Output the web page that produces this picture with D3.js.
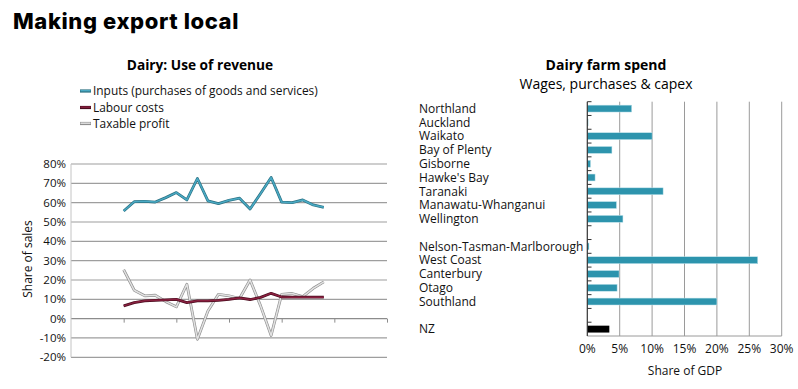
<!DOCTYPE html>
<html><head><meta charset="utf-8">
<script src="https://cdn.jsdelivr.net/npm/d3@7"></script>
<style>
html,body{margin:0;padding:0;background:#fff;}
svg{display:block;}
</style></head>
<body>
<svg id="chart" width="798" height="389"></svg>
<script>
// ---- Left chart data (20 annual observations) ----
const periods = d3.range(20);
const inputs  = [55.7,60.5,60.7,60.3,62.6,65.2,61.4,72.5,60.9,59.5,61.2,62.3,56.7,64.7,73.0,60.3,60.0,61.4,58.8,57.6];
const labour  = [6.6,8.3,9.2,9.5,9.7,10.0,8.3,9.2,9.2,9.5,10.0,10.7,9.9,11.0,13.1,11.2,11.1,11.1,11.1,11.1];
const profit  = [25.3,14.7,11.8,12.1,8.8,6.1,17.8,-10.7,4.0,12.6,11.8,10.4,20.0,6.6,-8.7,12.6,13.0,11.4,15.7,19.0];
const leftYTicks = [-20,-10,0,10,20,30,40,50,60,70,80];
const seriesNames = ["Inputs (purchases of goods and services)","Labour costs","Taxable profit"];

// ---- Right chart data ----
const regions = ["Northland","Auckland","Waikato","Bay of Plenty","Gisborne","Hawke's Bay","Taranaki","Manawatu-Whanganui","Wellington","","Nelson-Tasman-Marlborough","West Coast","Canterbury","Otago","Southland","","NZ"];
const spend   = [6.85,0.1,10.0,3.8,0.5,1.2,11.7,4.5,5.5,null,0.26,26.3,4.9,4.6,20.0,null,3.4];
const rightXTicks = [0,5,10,15,20,25,30];

const svg = d3.select("#chart");
const font = "'Open Sans', 'Noto Sans', sans-serif";

// Main title
svg.append("text").attr("x",13).attr("y",28.5)
  .attr("font-family","Inter, Lato, sans-serif").attr("font-weight",800)
  .attr("font-size",22).attr("fill","#000").attr("letter-spacing","0.6")
  .text("Making export local");

// ================= LEFT CHART =================
const L = svg.append("g");
L.append("text").attr("x",200).attr("y",69.5).attr("text-anchor","middle")
  .attr("font-family",font).attr("font-weight",700).attr("font-size",13.7).text("Dairy: Use of revenue");

const x = d3.scaleLinear().domain([-5,25]).range([71,387]);
const y = d3.scaleLinear().domain([-20,80]).range([357.3,164]);

// gridlines
L.append("g").selectAll("line").data(leftYTicks).join("line")
  .attr("x1",71).attr("x2",387).attr("y1",d=>y(d)).attr("y2",d=>y(d))
  .attr("stroke",d=>d===0?"#8c8c8c":"#9e9e9e").attr("stroke-width",1.2);
// y axis line (light)
L.append("line").attr("x1",71).attr("x2",71).attr("y1",y(80)).attr("y2",y(-20))
  .attr("stroke","#c4c4c4").attr("stroke-width",1);
// y tick labels
L.append("g").selectAll("text").data(leftYTicks).join("text")
  .attr("x",66).attr("y",d=>y(d)+4).attr("text-anchor","end")
  .attr("font-family",font).attr("font-size",11.5).attr("fill","#111")
  .text(d=>d+"%");
// x axis ticks on 0 line
const xAxis = d3.axisBottom(x).tickValues([0,5,10,15,20,25]).tickSize(4).tickFormat("");
const xg = L.append("g").attr("transform",`translate(0,${y(0)})`).call(xAxis);
xg.select(".domain").remove();
xg.selectAll(".tick line").attr("stroke","#8c8c8c");

// y axis title
L.append("text").attr("transform","translate(32,259) rotate(-90)").attr("text-anchor","middle")
  .attr("font-family",font).attr("font-size",12).attr("fill","#111").text("Share of sales");

const line = d3.line().x((d,i)=>x(periods[i])).y(d=>y(d));
const styles = [
  {data:inputs, outer:"#2a6f80", inner:"#4aaac4"},
  {data:labour, outer:"#4a0c1e", inner:"#8a2040"},
  {data:profit, outer:"#8f8f8f", inner:"#e2e2e2"}
];
styles.slice().reverse().forEach(s=>{
  L.append("path").datum(s.data).attr("d",line).attr("fill","none")
    .attr("stroke",s.outer).attr("stroke-width",2.8).attr("stroke-linejoin","round");
  L.append("path").datum(s.data).attr("d",line).attr("fill","none")
    .attr("stroke",s.inner).attr("stroke-width",1.5).attr("stroke-linejoin","round");
});

// legend
const legY = [91,107.5,123.5];
seriesNames.forEach((n,i)=>{
  L.append("line").attr("x1",80).attr("x2",91).attr("y1",legY[i]).attr("y2",legY[i])
    .attr("stroke",styles[i].outer).attr("stroke-width",3.2);
  L.append("line").attr("x1",80.5).attr("x2",90.5).attr("y1",legY[i]-0.3).attr("y2",legY[i]-0.3)
    .attr("stroke",styles[i].inner).attr("stroke-width",1.4);
  L.append("text").attr("x",93).attr("y",legY[i]+4.2).attr("font-family",font)
    .attr("font-size",11.9).attr("fill","#111").text(n);
});

// ================= RIGHT CHART =================
const R = svg.append("g");
R.append("text").attr("x",606).attr("y",70).attr("text-anchor","middle")
  .attr("font-family",font).attr("font-weight",700).attr("font-size",14).text("Dairy farm spend");
R.append("text").attr("x",606).attr("y",88.5).attr("text-anchor","middle")
  .attr("font-family",font).attr("font-size",14).text("Wages, purchases & capex");

const keys = regions.map((r,i)=>i);
const yb = d3.scaleBand().domain(keys).range([101.7,336]).paddingInner(0.5).paddingOuter(0.25);
const xr = d3.scaleLinear().domain([0,30]).range([587.3,781.7]);

// vertical gridlines
R.append("g").selectAll("line").data(rightXTicks.slice(1)).join("line")
  .attr("x1",d=>xr(d)).attr("x2",d=>xr(d)).attr("y1",101.7).attr("y2",336)
  .attr("stroke","#9a9a9a").attr("stroke-width",1);
// bottom axis line
R.append("line").attr("x1",587.3).attr("x2",781.7).attr("y1",336).attr("y2",336)
  .attr("stroke","#9a9a9a").attr("stroke-width",1);

// bars
R.append("g").selectAll("rect").data(spend.map((v,i)=>({v,i})).filter(d=>d.v!==null)).join("rect")
  .attr("x",xr(0)).attr("y",d=>yb(d.i)).attr("height",yb.bandwidth())
  .attr("width",d=>Math.max(0.8,xr(d.v)-xr(0)))
  .attr("fill",d=>regions[d.i]==="NZ"?"#000":"#2d94ad")
  .attr("stroke",d=>regions[d.i]==="NZ"?"none":"#bfe3ec").attr("stroke-width",0.5);

// y axis line + ticks at slot boundaries
R.append("line").attr("x1",587.3).attr("x2",587.3).attr("y1",101.7).attr("y2",336)
  .attr("stroke","#333").attr("stroke-width",1.2);
const step = yb.step();
R.append("g").selectAll("line").data(d3.range(regions.length)).join("line")
  .attr("x1",587.3).attr("x2",591.5)
  .attr("y1",d=>101.7+d*step).attr("y2",d=>101.7+d*step)
  .attr("stroke","#333").attr("stroke-width",1);

// category labels
R.append("g").selectAll("text").data(regions).join("text")
  .attr("x",419).attr("y",(d,i)=>yb(i)+yb.bandwidth()/2+4.3)
  .attr("font-family",font).attr("font-size",12).attr("fill","#111").text(d=>d);

// x tick labels
R.append("g").selectAll("text").data(rightXTicks).join("text")
  .attr("x",d=>xr(d)).attr("y",352.5).attr("text-anchor","middle")
  .attr("font-family",font).attr("font-size",12).attr("fill","#111").text(d=>d+"%");
R.append("text").attr("x",685).attr("y",374.5).attr("text-anchor","middle")
  .attr("font-family",font).attr("font-size",12).attr("fill","#111").text("Share of GDP");
</script>
</body></html>
